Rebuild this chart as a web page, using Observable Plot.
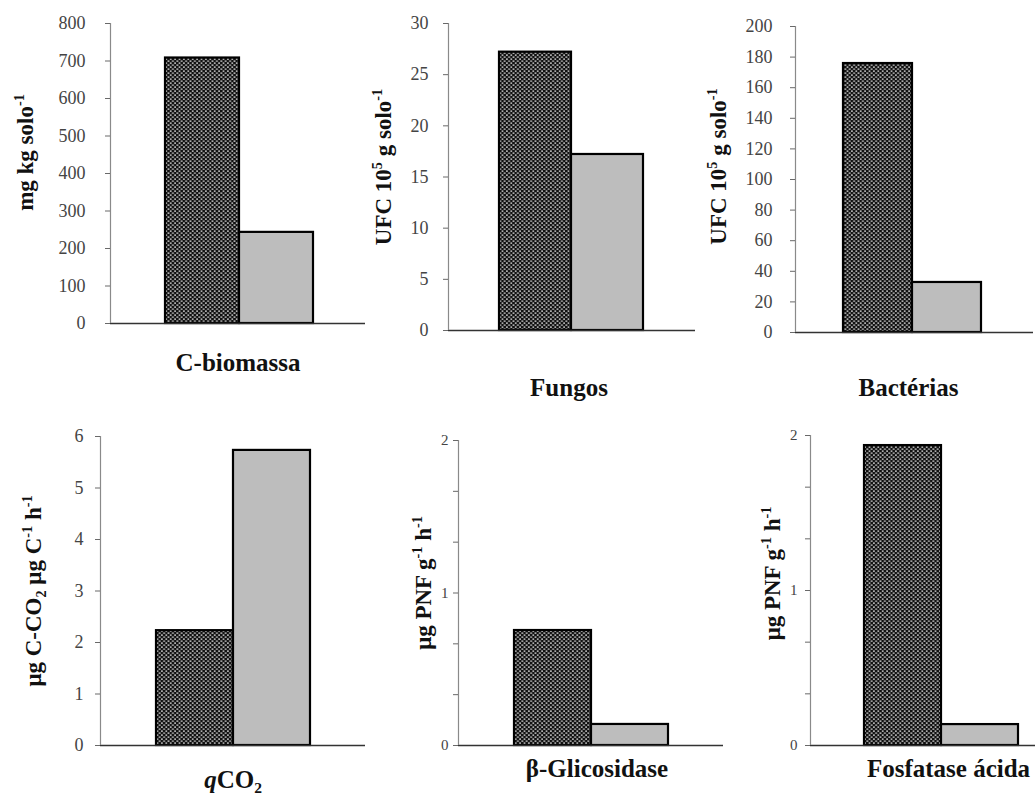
<!DOCTYPE html>
<html><head><meta charset="utf-8">
<script src="https://cdn.jsdelivr.net/npm/d3@7"></script>
<script src="https://cdn.jsdelivr.net/npm/@observablehq/plot@0.6"></script>
<style>
body{margin:0;background:#fff;}
#wrap{position:relative;width:1035px;height:795px;overflow:hidden;background:#fff;}
#wrap svg.panel{position:absolute;overflow:visible;}
</style></head><body>
<svg width="0" height="0" style="position:absolute">
<defs>
<pattern id="hatch" width="4.4" height="4" patternUnits="userSpaceOnUse">
<rect width="4.4" height="4" fill="#111"/>
<rect x="0.4" y="0.5" width="1.8" height="1.2" fill="#f0f0f0"/>
<rect x="2.6" y="2.5" width="1.8" height="1.2" fill="#f0f0f0"/>
</pattern></defs></svg>
<div id="wrap"></div>
<script>
// ---- data ----
const categories = ["C-biomassa", "Fungos", "Bactérias", "qCO2", "β-Glicosidase", "Fosfatase ácida"];
const xLabels = ["C-biomassa", "Fungos", "Bactérias", "*q*CO_{2}", "β-Glicosidase", "Fosfatase ácida"];
const yLabels = ["mg kg solo^{-1}", "UFC 10^{5} g solo^{-1}", "UFC 10^{5} g solo^{-1}",
                 "μg C-CO_{2} μg C^{-1} h^{-1}", "μg PNF g^{-1} h^{-1}", "μg PNF g^{-1} h^{-1}"];
const series = ["Série 1", "Série 2"];
const valuesSerie1 = [708, 27.2, 175.8, 2.23, 0.754, 1.935];
const valuesSerie2 = [243, 17.2, 32.7, 5.73, 0.138, 0.135];
const yTicks = [
  [0, 100, 200, 300, 400, 500, 600, 700, 800],
  [0, 5, 10, 15, 20, 25, 30],
  [0, 20, 40, 60, 80, 100, 120, 140, 160, 180, 200],
  [0, 1, 2, 3, 4, 5, 6],
  [0, 1/3, 2/3, 1, 4/3, 5/3, 2],
  [0, 1/3, 2/3, 1, 4/3, 5/3, 2]
];
const yTickLabeled = [
  [0, 100, 200, 300, 400, 500, 600, 700, 800],
  [0, 5, 10, 15, 20, 25, 30],
  [0, 20, 40, 60, 80, 100, 120, 140, 160, 180, 200],
  [0, 1, 2, 3, 4, 5, 6],
  [0, 1, 2],
  [0, 1, 2]
];

// ---- layout (page geometry) ----
const layout = [
  {left: 0,   top: 0,   width: 365, height: 400, axisX: 110, yTop: 23,  y0: 323, inL: 54, inR: 52, pad: 20, tfs: 18, xdx: 0,   xdy: 47, ydx: -85, ydy: -21},
  {left: 345, top: 0,   width: 350, height: 400, axisX: 448, yTop: 23,  y0: 330, inL: 51, inR: 52, pad: 15, tfs: 18, xdx: -3,  xdy: 65, ydx: -65, ydy: -10},
  {left: 690, top: 0,   width: 343, height: 400, axisX: 795, yTop: 26,  y0: 332, inL: 48, inR: 52, pad: 18, tfs: 18, xdx: -6,  xdy: 63, ydx: -77, ydy: -13},
  {left: 0,   top: 400, width: 365, height: 395, axisX: 100, yTop: 436, y0: 745, inL: 56, inR: 55, pad: 12, tfs: 18, xdx: 0,   xdy: 42, ydx: -67, ydy: 0},
  {left: 345, top: 400, width: 378, height: 395, axisX: 458, yTop: 440, y0: 745, inL: 56, inR: 55, pad: 5,  tfs: 15, xdx: 6,   xdy: 31, ydx: -35, ydy: -10},
  {left: 690, top: 400, width: 350, height: 395, axisX: 810, yTop: 435, y0: 745, inL: 54, inR: 22, pad: 8,  tfs: 15, xdx: 23,  xdy: 31, ydx: -38, ydy: -17}
];

const serif = "'Liberation Serif', 'Times New Roman', 'DejaVu Serif', serif";

function rich(node, spec, fs) {
  const t = d3.select(node);
  t.text(null);
  const re = /\^\{([^}]*)\}|_\{([^}]*)\}|\*([^*]*)\*|([^^_*]+)/g;
  let m, cur = 0;
  while ((m = re.exec(spec))) {
    let target = 0, txt, size = fs, italic = false;
    if (m[1] != null) { target = -0.38 * fs; txt = m[1]; size = fs * 0.62; }
    else if (m[2] != null) { target = 0.22 * fs; txt = m[2]; size = fs * 0.62; }
    else if (m[3] != null) { txt = m[3]; italic = true; }
    else txt = m[4];
    const ts = t.append("tspan").attr("dy", target - cur).attr("font-size", size).text(txt);
    if (italic) ts.attr("font-style", "italic");
    cur = target;
  }
}

const wrap = document.getElementById("wrap");
categories.forEach((cat, i) => {
  const L = layout[i];
  const data = series.map((s, j) => ({category: cat, series: s, value: j === 0 ? valuesSerie1[i] : valuesSerie2[i]}));
  const ticks = yTicks[i];
  const labeled = yTickLabeled[i];
  const frameW = L.left + L.width - L.axisX;
  const xfs = 25, yfs = 23;
  const svg = Plot.plot({
    width: L.width,
    height: L.height,
    marginLeft: L.axisX - L.left,
    marginRight: 0,
    marginTop: L.yTop - L.top,
    marginBottom: L.top + L.height - L.y0,
    style: {fontFamily: serif, background: "transparent", overflow: "visible"},
    x: {domain: series, padding: 0, insetLeft: L.inL, insetRight: L.inR, axis: null},
    y: {domain: [0, ticks[ticks.length - 1]], nice: false, axis: null},
    color: {type: "identity"},
    marks: [
      Plot.barY(data, {x: "series", y: "value",
        fill: d => d.series === series[0] ? "url(#hatch)" : "#bdbdbd",
        stroke: "#000", strokeWidth: 2.2}),
      Plot.ruleY([0], {stroke: "#333", strokeWidth: 1.4}),
      Plot.ruleX([0], {x: null, dx: -frameW / 2, stroke: "#8a8a8a", strokeWidth: 1.2}),
      Plot.axisY({ticks: ticks, tickSize: 5, tickPadding: L.pad, fontSize: L.tfs,
        tickFormat: d => labeled.some(v => Math.abs(v - d) < 1e-9) ? String(Math.round(d)) : "",
        color: "#444", strokeOpacity: 0.8, label: null}),
      Plot.text([xLabels[i]], {text: d => d, frameAnchor: "bottom", lineAnchor: "bottom",
        dx: L.xdx, dy: L.xdy, fontSize: xfs, fontWeight: "bold", fill: "#111"}),
      Plot.text([yLabels[i]], {text: d => d, frameAnchor: "left", rotate: -90, textAnchor: "middle", lineAnchor: "middle",
        dx: L.ydx, dy: L.ydy, fontSize: yfs, fontWeight: "bold", fill: "#111"})
    ]
  });
  svg.classList.add("panel");
  svg.style.left = L.left + "px";
  svg.style.top = L.top + "px";
  d3.select(svg).selectAll("text").each(function() {
    const s = this.textContent;
    if (s === xLabels[i]) rich(this, xLabels[i], xfs);
    else if (s === yLabels[i]) rich(this, yLabels[i], yfs);
  });
  wrap.appendChild(svg);
});
</script>
</body></html>
